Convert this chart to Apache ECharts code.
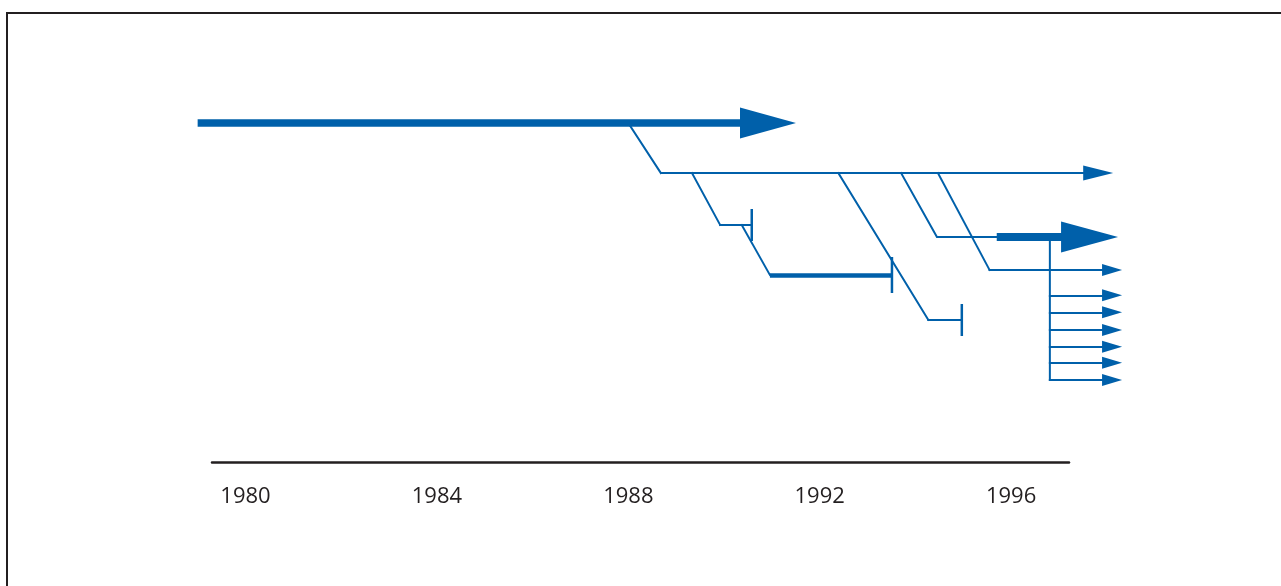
<!DOCTYPE html>
<html>
<head>
<meta charset="utf-8">
<script src="https://cdn.jsdelivr.net/npm/echarts@6/dist/echarts.min.js"></script>
<style>
html,body{margin:0;padding:0;background:#fff;}
#chart{width:1281px;height:586px;}
</style>
</head>
<body>
<div id="chart"></div>
<script>
// ---- Data (x = year, y = lane level) ----
const tickYears = [1980, 1984, 1988, 1992, 1996];

// main trunk (thick, big arrow)
const mainTrunk = [[1979.0, 2.44], [1990.92, 2.44]];
// second trunk (thin, arrow)
const secondTrunk = [[1988.68, 4.44], [1997.82, 4.44]];
// branch from main trunk down to second trunk
const branchToSecond = [[1988.0, 2.44], [1988.68, 4.44]];

// branch A: ends with a bar
const branchA = [[1989.33, 4.44], [1989.92, 6.52]];
const branchAEnd = [[1989.92, 6.52], [1990.58, 6.52]];
// branch B (off branch A): thick end with a bar
const branchB = [[1990.37, 6.52], [1990.96, 8.52]];
const branchBEnd = [[1990.96, 8.52], [1993.51, 8.52]];
// branch C: ends with a bar
const branchC = [[1992.39, 4.44], [1994.27, 10.32]];
const branchCEnd = [[1994.27, 10.32], [1994.97, 10.32]];
// branch D: thin then thick with big arrow
const branchD = [[1993.70, 4.44], [1994.45, 7.0], [1995.70, 7.0]];
const branchDEnd = [[1995.70, 7.0], [1997.64, 7.0]];
// branch E: arrow
const branchE = [[1994.47, 4.44], [1995.55, 8.32]];
const branchEEnd = [[1995.55, 8.32], [1998.11, 8.32]];

// fan out from branch D
const fanX = [1996.81, 1998.11];
const fanRows = [9.33, 10.01, 10.72, 11.39, 12.03, 12.72];
const fanStem = [[1996.81, 7.0], [1996.81, 12.72]];

// ---- Chart ----
const BLUE = '#0060aa';
const chart = echarts.init(document.getElementById('chart'));

function seg(coords) { return { coords: coords }; }

const plainThin = [branchToSecond, branchA, branchB, branchC, branchD, branchE, fanStem].map(seg);
const smallArrows = [branchEEnd].concat(fanRows.map(r => [[fanX[0], r], [fanX[1], r]])).map(seg);

function linesSeries(extra) {
  return Object.assign({
    type: 'lines', coordinateSystem: 'cartesian2d', silent: true, clip: false,
    itemStyle: { color: BLUE }
  }, extra);
}

const option = {
  animation: false,
  grid: { left: 212, right: 212, top: 62, bottom: 124 },
  xAxis: {
    type: 'value',
    min: 1979.3,
    max: 1997.21,
    axisLine: { show: true, onZero: false, lineStyle: { color: '#231f20', width: 2.5 } },
    axisTick: { show: false },
    splitLine: { show: false },
    axisLabel: {
      customValues: tickYears,
      formatter: v => String(Math.round(v)),
      fontFamily: 'Open Sans',
      fontSize: 22,
      color: '#231f20',
      margin: 24
    }
  },
  yAxis: {
    type: 'value', inverse: true, min: 0, max: 16, show: false
  },
  graphic: [{
    type: 'rect',
    shape: { x: 7, y: 13, width: 1400, height: 700 },
    style: { fill: 'none', stroke: '#231f20', lineWidth: 2 },
    silent: true
  }],
  series: [
    linesSeries({
      polyline: true,
      lineStyle: { color: BLUE, width: 2, opacity: 1, cap: 'square' },
      data: plainThin
    }),
    linesSeries({
      symbol: ['none', 'triangle'], symbolSize: [0, [12, 20]],
      lineStyle: { color: BLUE, width: 2, opacity: 1, cap: 'square' },
      data: smallArrows
    }),
    linesSeries({
      symbol: ['none', 'triangle'], symbolSize: [0, [15, 30]],
      lineStyle: { color: BLUE, width: 2, opacity: 1 },
      data: [seg(secondTrunk)]
    }),
    linesSeries({
      symbol: ['none', 'triangle'], symbolSize: [0, [31, 56]],
      lineStyle: { color: BLUE, width: 7.5, opacity: 1 },
      data: [seg(mainTrunk)]
    }),
    linesSeries({
      symbol: ['none', 'triangle'], symbolSize: [0, [31, 57]],
      lineStyle: { color: BLUE, width: 8, opacity: 1 },
      data: [seg(branchDEnd)]
    }),
    linesSeries({
      symbol: ['none', 'rect'], symbolSize: [0, [32, 2.5]],
      lineStyle: { color: BLUE, width: 2, opacity: 1, cap: 'square' },
      data: [seg(branchAEnd), seg(branchCEnd)]
    }),
    linesSeries({
      symbol: ['none', 'rect'], symbolSize: [0, [36, 2.5]],
      lineStyle: { color: BLUE, width: 4.5, opacity: 1 },
      data: [seg(branchBEnd)]
    })
  ]
};
chart.setOption(option);
</script>
</body>
</html>
